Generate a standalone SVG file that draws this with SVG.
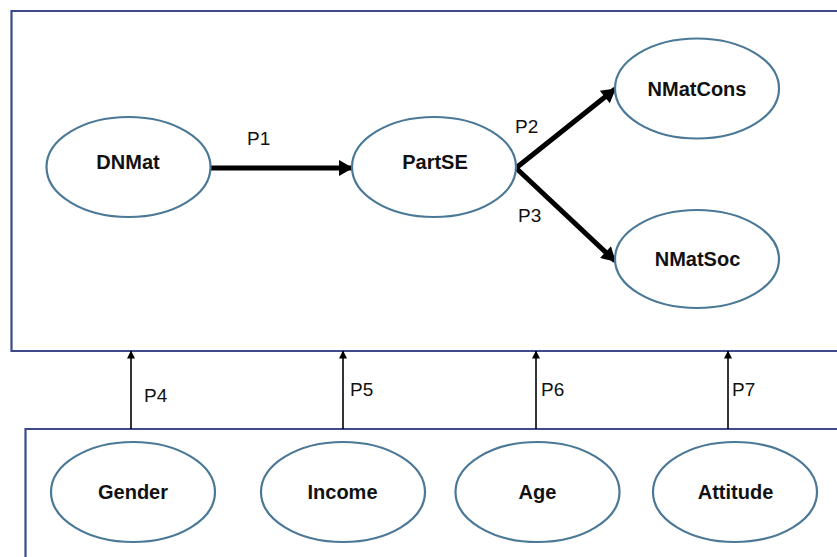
<svg xmlns="http://www.w3.org/2000/svg" width="837" height="557" viewBox="0 0 837 557">
<style>
.box{fill:none;stroke:#3e4a89;stroke-width:2.2}
.node ellipse{fill:#fff;stroke:#4a7896;stroke-width:2.2}
.lbl{font-family:"Liberation Sans",Arial,sans-serif;font-weight:bold;font-size:20px;fill:#111;text-anchor:middle}
.pl{font-family:"Liberation Sans",Arial,sans-serif;font-size:19px;fill:#111}
.thick{stroke:#000;stroke-width:5;fill:none}
.thin{stroke:#000;stroke-width:1.6;fill:none}
</style>
<defs>
<marker id="big" markerUnits="userSpaceOnUse" markerWidth="16" markerHeight="16" viewBox="0 0 14 16" refX="13" refY="8" orient="auto">
<path d="M0,0 L14,8 L0,16 Z" fill="#000"/>
</marker>
<marker id="small" markerUnits="userSpaceOnUse" markerWidth="8" markerHeight="8" viewBox="0 0 8 8" refX="7.5" refY="4" orient="auto">
<path d="M0,0 L8,4 L0,8 Z" fill="#000"/>
</marker>
</defs>
<rect width="837" height="557" fill="#fff"/>
<g id="top-box"><path class="box" d="M840,11 H11.5 V351 H840"/></g>
<g id="bottom-box"><path class="box" d="M840,429 H25.5 V560"/></g>
<g id="connectors">
<line class="thick" x1="211" y1="168" x2="352" y2="168" marker-end="url(#big)"/>
<line class="thick" x1="516" y1="168" x2="615" y2="89" marker-end="url(#big)"/>
<line class="thick" x1="516" y1="168" x2="615" y2="261" marker-end="url(#big)"/>
<line class="thin" x1="131" y1="429" x2="131" y2="351" marker-end="url(#small)"/>
<line class="thin" x1="343" y1="429" x2="343" y2="351" marker-end="url(#small)"/>
<line class="thin" x1="536" y1="429" x2="536" y2="351" marker-end="url(#small)"/>
<line class="thin" x1="728" y1="429" x2="728" y2="351" marker-end="url(#small)"/>
<text class="pl" x="247" y="145">P1</text>
<text class="pl" x="515" y="133">P2</text>
<text class="pl" x="518" y="222">P3</text>
<text class="pl" x="144" y="402">P4</text>
<text class="pl" x="350" y="396">P5</text>
<text class="pl" x="541" y="396">P6</text>
<text class="pl" x="732" y="396">P7</text>
</g>
<g id="DNMat" class="node"><ellipse cx="128.5" cy="167" rx="82" ry="50"/><text class="lbl" x="128" y="169">DNMat</text></g>
<g id="PartSE" class="node"><ellipse cx="434" cy="167" rx="82" ry="50"/><text class="lbl" x="435" y="169">PartSE</text></g>
<g id="NMatCons" class="node"><ellipse cx="697" cy="88.5" rx="82" ry="50"/><text class="lbl" x="697" y="96">NMatCons</text></g>
<g id="NMatSoc" class="node"><ellipse cx="697" cy="259" rx="82" ry="49"/><text class="lbl" x="697.5" y="266">NMatSoc</text></g>
<g id="Gender" class="node"><ellipse cx="133" cy="492" rx="82" ry="50"/><text class="lbl" x="133" y="499">Gender</text></g>
<g id="Income" class="node"><ellipse cx="343" cy="492" rx="82" ry="50"/><text class="lbl" x="342.5" y="499">Income</text></g>
<g id="Age" class="node"><ellipse cx="537.5" cy="492" rx="82" ry="50"/><text class="lbl" x="537.5" y="499">Age</text></g>
<g id="Attitude" class="node"><ellipse cx="735" cy="492" rx="82" ry="50"/><text class="lbl" x="735.5" y="499">Attitude</text></g>
</svg>
